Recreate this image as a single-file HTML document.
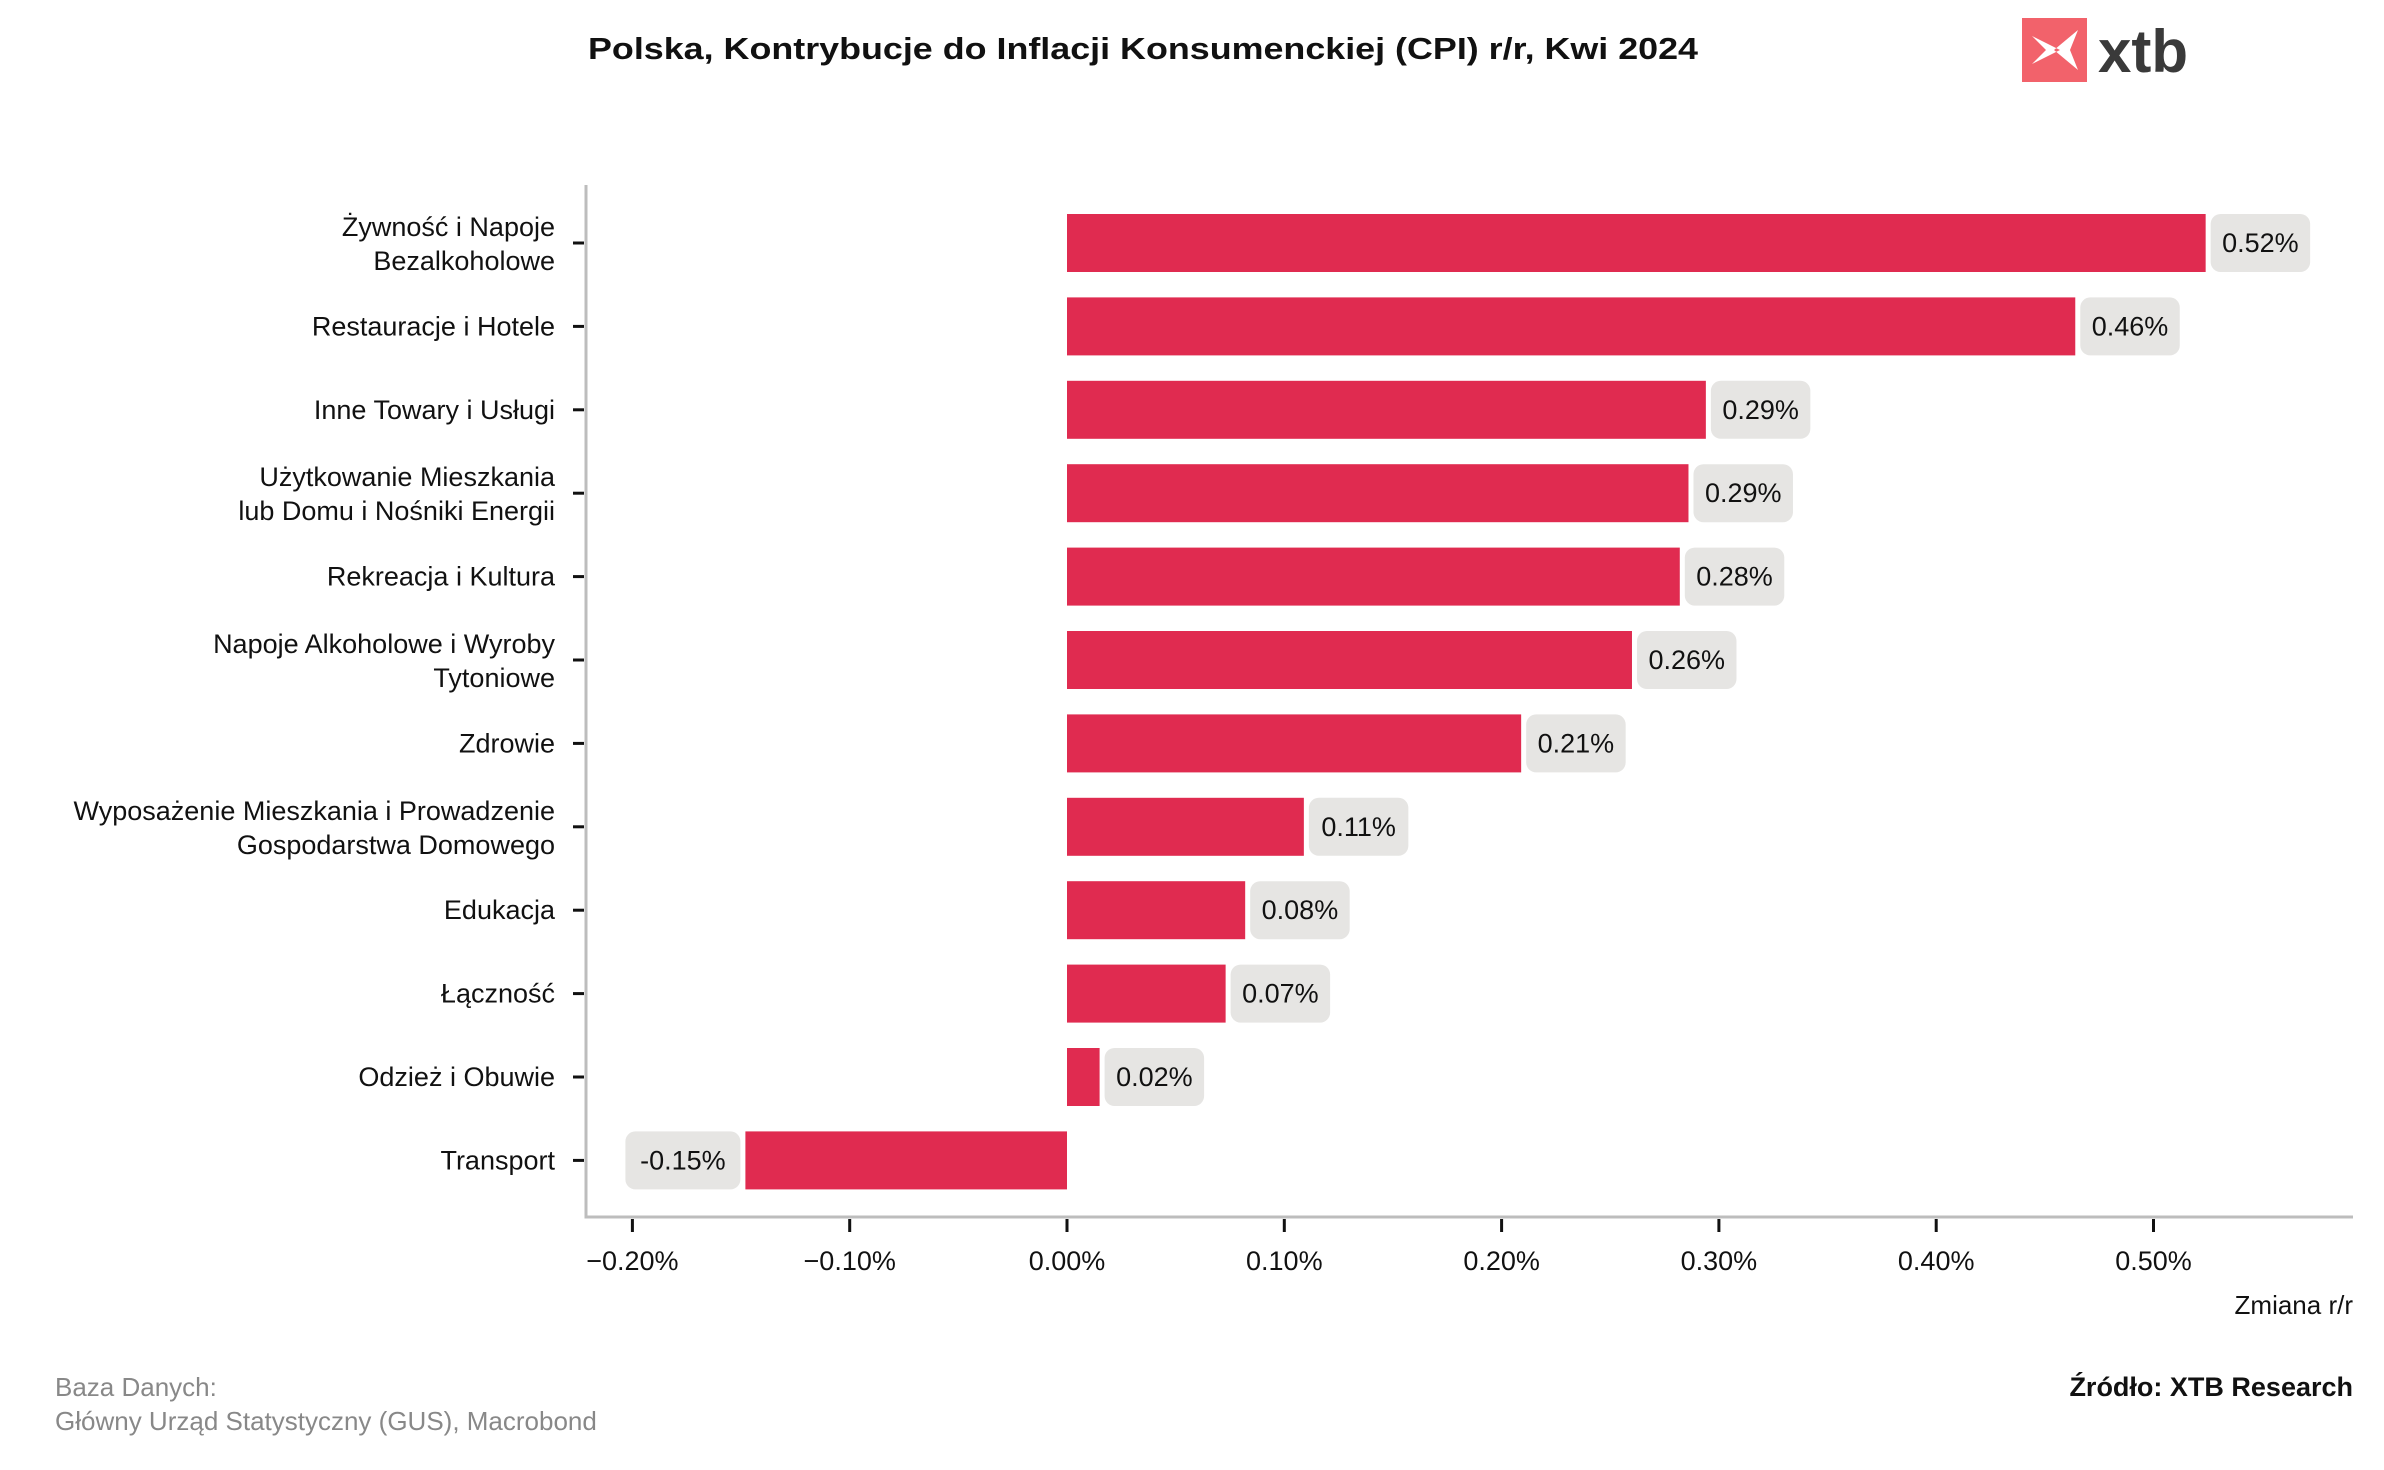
<!DOCTYPE html>
<html><head><meta charset="utf-8"><style>
body{margin:0;background:#fff;}
svg text{font-family:"Liberation Sans",sans-serif;}
</style></head><body>
<svg id="c" width="2384" height="1465" viewBox="0 0 2384 1465" xmlns="http://www.w3.org/2000/svg">
<text x="1143" y="59" text-anchor="middle" font-size="31" font-weight="bold" fill="#111" textLength="1110" lengthAdjust="spacingAndGlyphs">Polska, Kontrybucje do Inflacji Konsumenckiej (CPI) r/r, Kwi 2024</text>
<g>
<rect x="2022" y="18" width="65" height="64" fill="#f2626b"/>
<path d="M2032 36 L2060 50 L2032 64 L2046 50 Z M2078 30 L2054 50 L2078 70 L2070 50 Z" fill="#fff"/>
<text x="2098" y="72" font-size="60" font-weight="bold" fill="#3a3a3a">xtb</text>
</g>
<g id="plot"></g>
<text x="2353" y="1314" text-anchor="end" font-size="26" fill="#111">Zmiana r/r</text>
<text x="55" y="1396" font-size="26" fill="#888">Baza Danych:</text>
<text x="55" y="1430" font-size="26" fill="#888">Główny Urząd Statystyczny (GUS), Macrobond</text>
<text x="2353" y="1396" text-anchor="end" font-size="27" font-weight="bold" fill="#111">Źródło: XTB Research</text>
</svg>
<script>
const categories=[["Żywność i Napoje","Bezalkoholowe"],["Restauracje i Hotele"],["Inne Towary i Usługi"],["Użytkowanie Mieszkania","lub Domu i Nośniki Energii"],["Rekreacja i Kultura"],["Napoje Alkoholowe i Wyroby","Tytoniowe"],["Zdrowie"],["Wyposażenie Mieszkania i Prowadzenie","Gospodarstwa Domowego"],["Edukacja"],["Łączność"],["Odzież i Obuwie"],["Transport"]];
const values=[0.524,0.464,0.294,0.286,0.282,0.260,0.209,0.109,0.082,0.073,0.015,-0.148];
const valueLabels=["0.52%","0.46%","0.29%","0.29%","0.28%","0.26%","0.21%","0.11%","0.08%","0.07%","0.02%","-0.15%"];
const ticks=[-0.2,-0.1,0,0.1,0.2,0.3,0.4,0.5];
const tickLabels=["−0.20%","−0.10%","0.00%","0.10%","0.20%","0.30%","0.40%","0.50%"];
const NS="http://www.w3.org/2000/svg";
const g=document.getElementById('plot');
const X=v=>1067+v*2173;
const Y=i=>243+i*83.4;
function mk(t,a,p){const e=document.createElementNS(NS,t);for(const k in a)e.setAttribute(k,a[k]);(p||g).appendChild(e);return e;}
const ax=mk('path',{d:'M586 185 V1217 H2353',fill:'none',stroke:'#bdbdbd','stroke-width':3});


ticks.forEach((t,i)=>{
 const tk=mk('line',{x1:X(t),x2:X(t),y1:1219,y2:1232,stroke:'#111','stroke-width':3});
 
 
 const tl=mk('text',{x:X(t),y:1270,'text-anchor':'middle','font-size':27,fill:'#111'});
 tl.textContent=tickLabels[i];
 
 
});
categories.forEach((c,i)=>{
 const y=Y(i);
 const tk=mk('line',{x1:573,x2:584,y1:y,y2:y,stroke:'#111','stroke-width':3});
 
 
 const tl=mk('text',{x:555,'text-anchor':'end','font-size':27,fill:'#111'});
 
 
 c.forEach((s,j)=>{const ts=mk('tspan',{x:555,y:y+9+(c.length===2?(j===0?-16:18):0)},tl);ts.textContent=s;});
 const v=values[i];
 const x0=Math.min(X(0),X(v)),w=Math.abs(X(v)-X(0));
 const b=mk('rect',{x:x0,y:y-29,width:w,height:58,fill:'#e02b50'});
 
 
 const bw=valueLabels[i].length*15.5+22;
 const bx=v>=0?X(v)+5:X(v)-5-bw;
 const bg=mk('rect',{x:bx,y:y-29,width:bw,height:58,rx:10,fill:'#e6e5e3'});
 
 
 const vt=mk('text',{x:bx+bw/2,y:y+9,'text-anchor':'middle','font-size':27,fill:'#111'});
 vt.textContent=valueLabels[i];
 
 
});
</script>
</body></html>
